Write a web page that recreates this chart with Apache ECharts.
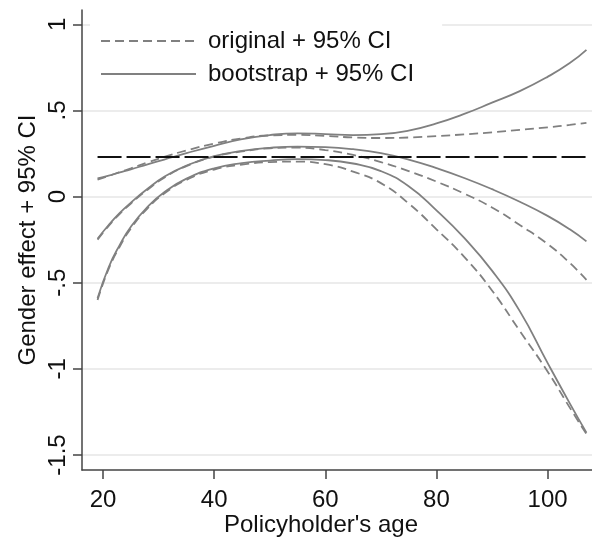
<!DOCTYPE html>
<html>
<head>
<meta charset="utf-8">
<script src="https://cdn.jsdelivr.net/npm/echarts@6/dist/echarts.min.js"></script>
<style>
  html, body { margin: 0; padding: 0; background: #fff; }
  #chart { width: 592px; height: 538px; }
</style>
</head>
<body>
<div id="chart"></div>
<script>
// Policyholder ages at which the smoothed effects are evaluated
const ages = [19, 21, 23, 25, 28, 31, 35, 40, 45, 50, 55, 60, 65, 70, 75, 80, 85, 90, 95, 100, 104, 107];

// Original estimate with its 95% CI bounds
const origUpper = [0.098, 0.12, 0.142, 0.164, 0.198, 0.23, 0.268, 0.308, 0.338, 0.355, 0.358, 0.352, 0.343, 0.34, 0.343, 0.351, 0.361, 0.373, 0.387, 0.402, 0.416, 0.428];
const origMid   = [-0.25, -0.17, -0.1, -0.04, 0.04, 0.11, 0.177, 0.232, 0.262, 0.28, 0.284, 0.27, 0.242, 0.2, 0.148, 0.087, 0.017, -0.063, -0.165, -0.275, -0.385, -0.483];
const origLower = [-0.6, -0.42, -0.29, -0.185, -0.068, 0.018, 0.097, 0.157, 0.186, 0.2, 0.203, 0.188, 0.145, 0.078, -0.04, -0.19, -0.35, -0.545, -0.78, -1.015, -1.225, -1.378];

// Bootstrap estimate with its 95% CI bounds
const bootUpper = [0.105, 0.122, 0.14, 0.158, 0.187, 0.215, 0.252, 0.295, 0.333, 0.357, 0.367, 0.363, 0.357, 0.362, 0.383, 0.425, 0.48, 0.545, 0.612, 0.695, 0.775, 0.852];
const bootMid   = [-0.245, -0.165, -0.095, -0.035, 0.045, 0.115, 0.18, 0.235, 0.265, 0.283, 0.29, 0.287, 0.275, 0.252, 0.215, 0.165, 0.108, 0.043, -0.03, -0.112, -0.19, -0.26];
const bootLower = [-0.59, -0.41, -0.28, -0.175, -0.06, 0.025, 0.104, 0.164, 0.194, 0.209, 0.217, 0.212, 0.192, 0.148, 0.06, -0.08, -0.24, -0.43, -0.665, -0.965, -1.2, -1.37];

// Overall (age-independent) gender effect
const refEffect = 0.23;
const refAges = [19, 107];

// Axis ticks
const xTicks = [20, 40, 60, 80, 100];
const yTicks = [-1.5, -1, -0.5, 0, 0.5, 1];
const yTickLabels = ['-1.5', '-1', '-.5', '0', '.5', '1'];

const FONT = '"Liberation Sans", Arial, Helvetica, sans-serif';
const TEXT = '#111111';
const AXIS = '#444444';
const GRAY = '#808080';
const ORIG = 'original + 95% CI';
const BOOT = 'bootstrap + 95% CI';

function pairs(ys) { return ages.map((a, i) => [a, ys[i]]); }

function curve(name, ys, dashed) {
  return {
    name: name,
    type: 'line',
    data: pairs(ys),
    smooth: 0.5,
    symbol: 'none',
    silent: true,
    z: 3,
    itemStyle: { color: GRAY },
    lineStyle: { color: GRAY, width: 1.8, type: dashed ? [9, 5] : 'solid' }
  };
}

const chart = echarts.init(document.getElementById('chart'), null, { renderer: 'canvas' });

chart.setOption({
  animation: false,
  backgroundColor: '#ffffff',
  grid: { left: 82, right: 0, top: 10, bottom: 68, outerBoundsMode: 'none' },
  legend: {
    data: [ORIG, BOOT],
    orient: 'vertical',
    left: 90,
    top: 14,
    padding: [15, 28, 6, 10],
    itemWidth: 95,
    itemHeight: 14,
    itemGap: 9,
    backgroundColor: '#ffffff',
    selectedMode: false,
    itemStyle: { opacity: 0 },
    textStyle: { fontSize: 24, color: TEXT, fontFamily: FONT, padding: [0, 0, 0, 7] }
  },
  xAxis: {
    type: 'value',
    min: 16.2,
    max: 108,
    name: "Policyholder's age",
    nameLocation: 'middle',
    nameGap: 43,
    nameMoveOverlap: false,
    nameTextStyle: { fontSize: 24, color: TEXT, fontFamily: FONT, padding: [0, 32, 0, 0] },
    axisLine: { show: true, onZero: false, lineStyle: { color: AXIS, width: 1.5 } },
    axisTick: { show: true, length: 9, customValues: xTicks, lineStyle: { color: AXIS, width: 1.5 } },
    axisLabel: { customValues: xTicks, margin: 18, fontSize: 24, color: TEXT, fontFamily: FONT },
    splitLine: { show: false }
  },
  yAxis: {
    type: 'value',
    min: -1.587,
    max: 1.083,
    name: 'Gender effect + 95% CI',
    nameLocation: 'middle',
    nameGap: 42,
    nameRotate: 90,
    nameMoveOverlap: false,
    nameTextStyle: { fontSize: 24, color: TEXT, fontFamily: FONT },
    axisLine: { show: true, onZero: false, lineStyle: { color: AXIS, width: 1.5 } },
    axisTick: { show: true, length: 9, customValues: yTicks, lineStyle: { color: AXIS, width: 1.5 } },
    axisLabel: {
      customValues: yTicks,
      rotate: 90,
      margin: 12,
      fontSize: 24,
      color: TEXT,
      fontFamily: FONT,
      formatter: function (v) {
        const i = yTicks.findIndex(t => Math.abs(t - v) < 1e-9);
        return i >= 0 ? yTickLabels[i] : '';
      }
    },
    splitLine: { show: true, lineStyle: { color: '#e6e6e6', width: 1.7 } }
  },
  series: [
    curve(ORIG, origUpper, true),
    curve(ORIG, origMid, true),
    curve(ORIG, origLower, true),
    curve(BOOT, bootUpper, false),
    curve(BOOT, bootMid, false),
    curve(BOOT, bootLower, false),
    {
      name: 'overall',
      type: 'line',
      data: refAges.map(a => [a, refEffect]),
      symbol: 'none',
      silent: true,
      z: 4,
      lineStyle: { color: '#111111', width: 2, type: [24, 5] }
    }
  ]
});
</script>
</body>
</html>
